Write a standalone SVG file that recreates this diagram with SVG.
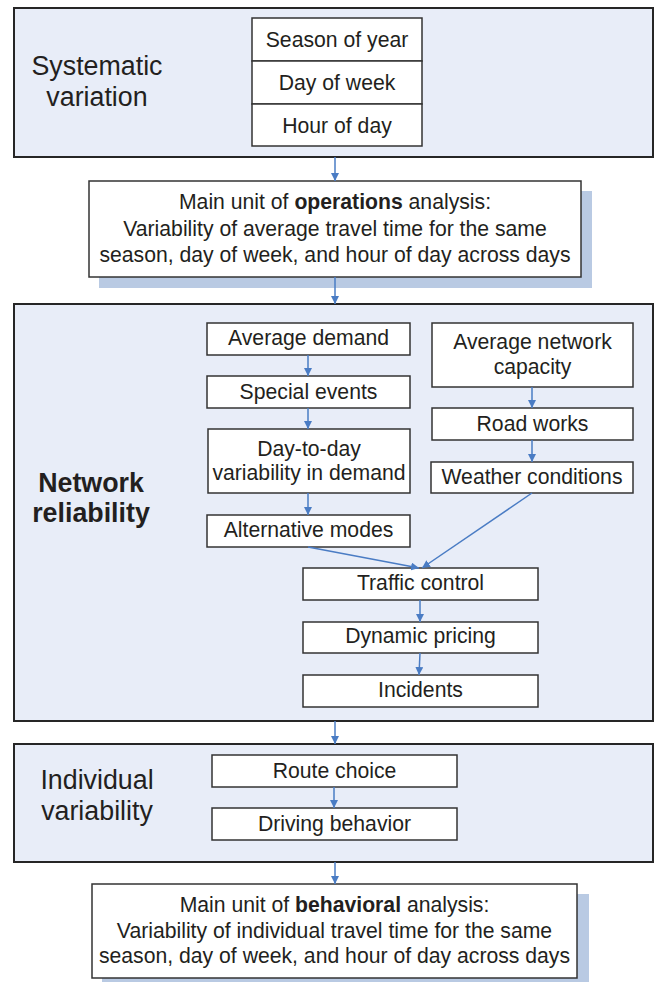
<svg xmlns="http://www.w3.org/2000/svg" width="656" height="982" viewBox="0 0 656 982">
  <style>
    .panel { fill: #e8edf8; stroke: #262626; stroke-width: 2; }
    .box { fill: #ffffff; stroke: #333333; stroke-width: 1.5; }
    .shadow { fill: #b9cae3; }
    .t { font-family: "Liberation Sans", Arial, sans-serif; font-size: 21.2px; fill: #231f20; text-anchor: middle; }
    .big { font-family: "Liberation Sans", Arial, sans-serif; font-size: 26.8px; fill: #231f20; text-anchor: middle; }
    .bold { font-weight: bold; }
    .conn { stroke: #4a7cc4; stroke-width: 1.5; fill: none; marker-end: url(#arrow); }
  </style>
  <defs>
    <marker id="arrow" viewBox="0 0 10 10" refX="10" refY="5" markerWidth="8" markerHeight="8" markerUnits="userSpaceOnUse" orient="auto">
      <path d="M0,0 L10,5 L0,10 z" fill="#4a7cc4"/>
    </marker>
  </defs>

  <!-- Systematic variation panel -->
  <g id="systematic">
    <rect class="panel" x="14" y="8" width="639" height="149"/>
    <text class="big" x="97" y="75">Systematic</text>
    <text class="big" x="97" y="106">variation</text>
  </g>
  <g id="season-table">
    <rect class="box" x="252" y="18" width="170" height="43"/>
    <rect class="box" x="252" y="61" width="170" height="43"/>
    <rect class="box" x="252" y="104" width="170" height="42"/>
    <text class="t" x="337" y="47">Season of year</text>
    <text class="t" x="337" y="90">Day of week</text>
    <text class="t" x="337" y="133">Hour of day</text>
  </g>

  <!-- Operations analysis box -->
  <g id="operations">
    <rect class="shadow" x="99" y="191" width="493" height="97"/>
    <rect class="box" x="89" y="181" width="492" height="96"/>
    <text class="t" x="335" y="209">Main unit of <tspan class="bold">operations</tspan> analysis:</text>
    <text class="t" x="335" y="236">Variability of average travel time for the same</text>
    <text class="t" x="335" y="262">season, day of week, and hour of day across days</text>
  </g>

  <!-- Network reliability panel -->
  <g id="network">
    <rect class="panel" x="14" y="304" width="639" height="417"/>
    <text class="big bold" x="91" y="492">Network</text>
    <text class="big bold" x="91" y="522">reliability</text>
  </g>
  <g id="avg-demand">
    <rect class="box" x="207" y="323" width="203" height="32"/>
    <text class="t" x="308.5" y="345">Average demand</text>
  </g>
  <g id="special-events">
    <rect class="box" x="207" y="376" width="203" height="32"/>
    <text class="t" x="308.5" y="399">Special events</text>
  </g>
  <g id="day-to-day">
    <rect class="box" x="208" y="429" width="202" height="64"/>
    <text class="t" x="309" y="456">Day-to-day</text>
    <text class="t" x="309" y="480">variability in demand</text>
  </g>
  <g id="alt-modes">
    <rect class="box" x="207" y="515" width="203" height="32"/>
    <text class="t" x="308.5" y="537">Alternative modes</text>
  </g>
  <g id="avg-capacity">
    <rect class="box" x="432" y="323" width="201" height="64"/>
    <text class="t" x="532.5" y="349">Average network</text>
    <text class="t" x="532.5" y="374">capacity</text>
  </g>
  <g id="road-works">
    <rect class="box" x="432" y="408" width="201" height="32"/>
    <text class="t" x="532.5" y="431">Road works</text>
  </g>
  <g id="weather">
    <rect class="box" x="431" y="462" width="202" height="31"/>
    <text class="t" x="532" y="484">Weather conditions</text>
  </g>
  <g id="traffic-control">
    <rect class="box" x="303" y="568" width="235" height="32"/>
    <text class="t" x="420.5" y="590">Traffic control</text>
  </g>
  <g id="dynamic-pricing">
    <rect class="box" x="303" y="622" width="235" height="31"/>
    <text class="t" x="420.5" y="643">Dynamic pricing</text>
  </g>
  <g id="incidents">
    <rect class="box" x="303" y="675" width="235" height="32"/>
    <text class="t" x="420.5" y="697">Incidents</text>
  </g>

  <!-- Individual variability panel -->
  <g id="individual">
    <rect class="panel" x="14" y="744" width="639" height="118"/>
    <text class="big" x="97" y="789">Individual</text>
    <text class="big" x="97" y="820">variability</text>
  </g>
  <g id="route-choice">
    <rect class="box" x="212" y="755" width="245" height="32"/>
    <text class="t" x="334.5" y="778">Route choice</text>
  </g>
  <g id="driving-behavior">
    <rect class="box" x="212" y="808" width="245" height="32"/>
    <text class="t" x="334.5" y="831">Driving behavior</text>
  </g>

  <!-- Behavioral analysis box -->
  <g id="behavioral">
    <rect class="shadow" x="102" y="894" width="487" height="88"/>
    <rect class="box" x="92" y="884" width="485" height="94"/>
    <text class="t" x="334.5" y="912">Main unit of <tspan class="bold">behavioral</tspan> analysis:</text>
    <text class="t" x="334.5" y="938">Variability of individual travel time for the same</text>
    <text class="t" x="334.5" y="963">season, day of week, and hour of day across days</text>
  </g>

  <!-- Connectors -->
  <g id="connectors">
    <line class="conn" x1="335" y1="157" x2="335" y2="181"/>
    <line class="conn" x1="335" y1="277" x2="335" y2="304"/>
    <line class="conn" x1="308" y1="355" x2="308" y2="376"/>
    <line class="conn" x1="308" y1="408" x2="308" y2="429"/>
    <line class="conn" x1="308" y1="493" x2="308" y2="515"/>
    <line class="conn" x1="532" y1="387" x2="532" y2="408"/>
    <line class="conn" x1="532" y1="440" x2="532" y2="462"/>
    <line class="conn" x1="308" y1="547" x2="419" y2="568"/>
    <line class="conn" x1="532" y1="493" x2="422" y2="568"/>
    <line class="conn" x1="420" y1="600" x2="420" y2="622"/>
    <line class="conn" x1="420" y1="653" x2="419" y2="675"/>
    <line class="conn" x1="335" y1="721" x2="335" y2="744"/>
    <line class="conn" x1="334" y1="787" x2="334" y2="808"/>
    <line class="conn" x1="335" y1="862" x2="335" y2="884"/>
  </g>
</svg>
